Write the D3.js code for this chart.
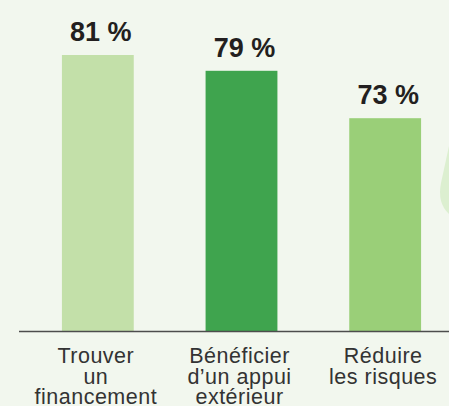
<!DOCTYPE html>
<html>
<head>
<meta charset="utf-8">
<script src="https://cdn.jsdelivr.net/npm/d3@7"></script>
<style>
  html, body { margin: 0; padding: 0; background: #f2f7ee; }
  svg { display: block; }
</style>
</head>
<body>
<svg id="chart"></svg>
<script>
// data
var categories = ["Trouver un financement", "Bénéficier d’un appui extérieur", "Réduire les risques"];
var labelLines = [["Trouver", "un", "financement"], ["Bénéficier", "d’un appui", "extérieur"], ["Réduire", "les risques"]];
var values = [81, 79, 73];
var valueLabels = ["81 %", "79 %", "73 %"];
var barColors = ["#c3e0a9", "#3fa44e", "#9acf78"];

var width = 449, height = 406;
var baseY = 331.5;

var svg = d3.select("#chart")
    .attr("width", width)
    .attr("height", height);

svg.append("rect")
    .attr("width", width)
    .attr("height", height)
    .attr("fill", "#f2f7ee");

// decorative shape cut by the right edge
svg.append("path")
    .attr("d", "M449,146 L441,183 Q437,203 449,214 Z")
    .attr("fill", "#dcefd0");

var x = d3.scaleBand()
    .domain(categories)
    .range([26, 457])
    .paddingInner(0.5)
    .paddingOuter(0.25);

// the original bars don't start at zero
var y = d3.scaleLinear()
    .domain([46, 81])
    .range([baseY, 55]);

var dataset = categories.map(function (c, i) {
  return { cat: c, value: values[i], label: valueLabels[i], color: barColors[i], lines: labelLines[i] };
});

svg.selectAll(".bar")
    .data(dataset)
    .enter().append("rect")
    .attr("class", "bar")
    .attr("x", d => x(d.cat))
    .attr("width", x.bandwidth())
    .attr("y", d => y(d.value))
    .attr("height", d => baseY - y(d.value))
    .attr("fill", d => d.color);

svg.selectAll(".label")
    .data(dataset)
    .enter().append("text")
    .attr("class", "label")
    .attr("x", d => x(d.cat) + x.bandwidth() / 2 + 3)
    .attr("y", d => y(d.value) - 14)
    .attr("text-anchor", "middle")
    .style("font-family", "'Liberation Sans', Arial, Helvetica, sans-serif")
    .style("font-weight", "bold")
    .style("font-size", "27px")
    .attr("fill", "#231f20")
    .text(d => d.label);

// category axis
var xAxis = d3.axisBottom(x).tickSize(0).tickFormat("");
var gx = svg.append("g")
    .attr("transform", "translate(0," + baseY + ")")
    .call(xAxis);
gx.select(".domain").remove();

gx.selectAll(".tick").each(function (c, i) {
  var t = d3.select(this).append("text")
      .attr("x", -2)
      .attr("y", 31.5)
      .attr("text-anchor", "middle")
      .attr("fill", "#333333")
      .style("font-family", "'Liberation Sans', Arial, Helvetica, sans-serif")
      .style("font-size", "21.5px")
      .style("letter-spacing", "0.5px");
  labelLines[i].forEach(function (line, k) {
    t.append("tspan")
        .attr("x", -2)
        .attr("dy", k === 0 ? 0 : 20.5)
        .text(line);
  });
});

// baseline
svg.append("line")
    .attr("x1", 19)
    .attr("x2", width)
    .attr("y1", baseY)
    .attr("y2", baseY)
    .attr("stroke", "#4d4d4d")
    .attr("stroke-width", 1.5);
</script>
</body>
</html>
